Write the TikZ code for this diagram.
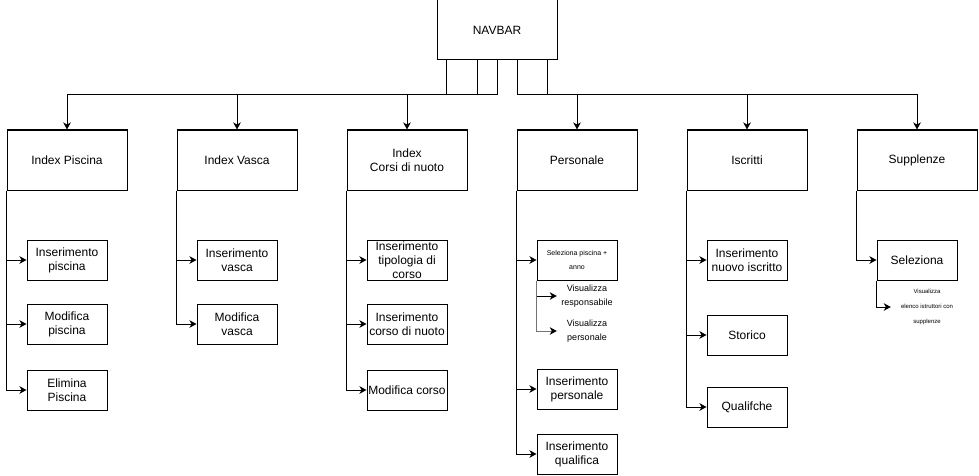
\documentclass[tikz,border=0pt]{standalone}
\usepackage{fontspec}
\setmainfont{Liberation Sans}
\usetikzlibrary{arrows.meta}
\begin{document}
\begin{tikzpicture}[x=1pt,y=-1pt,
  every node/.style={font=\fontsize{12}{14}\selectfont},
  bigbox/.style={draw,line width=1pt,minimum width=120pt,minimum height=60pt,inner sep=0pt,align=center},
  smallbox/.style={draw,line width=1pt,minimum width=80pt,minimum height=40pt,inner sep=0pt,align=center},
  note/.style={inner sep=0pt,align=center},
  arr/.style={line width=1pt,-{Stealth[length=7pt,width=7.5pt,inset=2pt,color=black]}}]
\useasboundingbox (0,0) rectangle (979,476);
% top
\node[bigbox] (nav) at (497,30) {NAVBAR};
\node[bigbox] (ip) at (67,160) {Index Piscina};
\node[bigbox] (iv) at (237,160) {Index Vasca};
\node[bigbox] (ic) at (407,160) {Index\\Corsi di nuoto};
\node[bigbox] (pe) at (577,160) {Personale};
\node[bigbox] (is) at (747,160) {Iscritti};
\node[bigbox] (su) at (917,160) {Supplenze};
\coordinate (bus) at (0,95);
\draw[arr] ([xshift=10pt]nav.south west) -- ([xshift=10pt]nav.south west |- bus) -| (ip.north);
\draw[arr] ([xshift=41pt]nav.south west) -- ([xshift=41pt]nav.south west |- bus) -| (iv.north);
\draw[arr] ([xshift=61pt]nav.south west) -- ([xshift=61pt]nav.south west |- bus) -| (ic.north);
\draw[arr] ([xshift=81pt]nav.south west) -- ([xshift=81pt]nav.south west |- bus) -| (pe.north);
\draw[arr] ([xshift=111pt]nav.south west) -- ([xshift=111pt]nav.south west |- bus) -| (is.north);
\draw[arr] ([xshift=111pt]nav.south west) -- ([xshift=111pt]nav.south west |- bus) -| (su.north);
% Index Piscina children
\node[smallbox] (p1) at (67,260) {Inserimento\\piscina};
\node[smallbox] (p2) at (67,324) {Modifica\\piscina};
\node[smallbox] (p3) at (67,390) {Elimina\\Piscina};
\foreach \c in {p1,p2,p3} \draw[arr] (ip.south west) |- (\c.west);
% Index Vasca children
\node[smallbox] (v1) at (237,260) {Inserimento\\vasca};
\node[smallbox] (v2) at (237,324) {Modifica\\vasca};
\foreach \c in {v1,v2} \draw[arr] (iv.south west) |- (\c.west);
% Corsi children
\node[smallbox] (c1) at (407,260) {Inserimento\\tipologia di\\corso};
\node[smallbox] (c2) at (407,324) {Inserimento\\corso di nuoto};
\node[smallbox] (c3) at (407,390) {Modifica corso};
\foreach \c in {c1,c2,c3} \draw[arr] (ic.south west) |- (\c.west);
% Personale children
\node[smallbox,font=\fontsize{7}{14}\selectfont] (e1) at (577,260) {Seleziona piscina +\\anno};
\node[smallbox] (e2) at (577,389) {Inserimento\\personale};
\node[smallbox] (e3) at (577,454) {Inserimento\\qualifica};
\foreach \c in {e1,e2,e3} \draw[arr] (pe.south west) |- (\c.west);
\node[note,minimum width=60pt,font=\fontsize{9}{14}\selectfont] (vr) at (587,296) {Visualizza\\responsabile};
\node[note,minimum width=60pt,font=\fontsize{9}{14}\selectfont] (vp) at (587,331) {Visualizza\\personale};
\draw[arr] (e1.south west) |- (vr.west);
\draw[arr,draw=black!55] (e1.south west) |- (vp.west);
% Iscritti children
\node[smallbox] (s1) at (747,260) {Inserimento\\nuovo iscritto};
\node[smallbox] (s2) at (747,335) {Storico};
\node[smallbox] (s3) at (747,407) {Qualifche};
\foreach \c in {s1,s2,s3} \draw[arr] (is.south west) |- (\c.west);
% Supplenze children
\node[smallbox] (u1) at (917,260) {Seleziona};
\draw[arr] (su.south west) |- (u1.west);
\node[note,minimum width=72pt,font=\fontsize{6}{15}\selectfont] (ue) at (927,307) {Visualizza\\elenco istruttori con\\supplenze};
\draw[arr] (u1.south west) |- (ue.west);
\end{tikzpicture}
\end{document}
